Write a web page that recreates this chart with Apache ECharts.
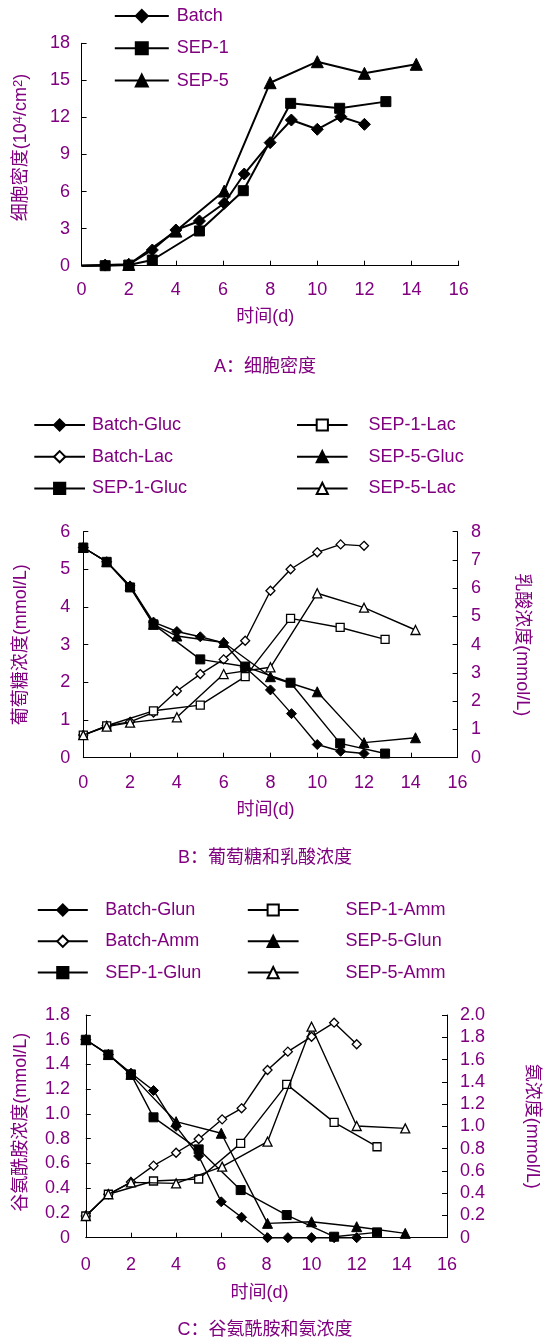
<!DOCTYPE html>
<html><head><meta charset="utf-8">
<script src="https://cdn.jsdelivr.net/npm/echarts@6/dist/echarts.min.js"></script>
<style>html,body{margin:0;padding:0;background:#fff}#c{width:549px;height:1340px}</style>
</head><body><div id="c"></div>
<script>
// ---------- Panel A: cell density (10^4/cm^2) ----------
const aBatch = [[0,0],[1,0.05],[2,0.1],[3,1.27],[4,2.89],[5,3.62],[6.05,5.05],[6.9,7.42],[8,9.96],[8.9,11.79],[10,11.04],[11,12.06],[12,11.44]];
const aSep1  = [[0,0],[1,0.0],[2,0.05],[3,0.46],[5,2.81],[6.86,6.07],[8.87,13.14],[10.95,12.74],[12.91,13.28]];
const aSep5  = [[0,0],[2,0.1],[4,2.8],[6.05,6.04],[8,14.81],[10,16.51],[12,15.57],[14.2,16.3]];

// ---------- Panel B: glucose (left) and lactate (right), mmol/L ----------
const bBatchGluc = [[0,5.58],[1,5.2],[2,4.56],[3,3.6],[4,3.35],[5,3.21],[6,3.05],[6.92,2.4],[8,1.8],[8.9,1.17],[10,0.35],[11,0.17],[12,0.11]];
const bBatchLac  = [[0,0.8],[1,1.13],[2,1.27],[3,1.6],[4,2.36],[5,2.96],[6,3.48],[6.92,4.14],[8,5.91],[8.86,6.67],[10,7.27],[11,7.55],[12,7.5]];
const bSep1Gluc  = [[0,5.58],[1,5.2],[2,4.52],[3,3.54],[5,2.61],[6.92,2.42],[8.86,1.99],[10.98,0.38],[12.9,0.11]];
const bSep1Lac   = [[0,0.8],[1,1.13],[3,1.66],[5,1.86],[6.92,2.87],[8.86,4.93],[10.98,4.61],[12.9,4.19]];
const bSep5Gluc  = [[0,5.58],[1,5.2],[2,4.56],[3,3.54],[4,3.23],[6,3.06],[8,2.15],[10,1.75],[12,0.4],[14.2,0.53]];
const bSep5Lac   = [[0,0.8],[1,1.1],[2,1.24],[4,1.43],[6,2.96],[8,3.2],[10,5.82],[12,5.31],[14.2,4.52]];

// ---------- Panel C: glutamine (left) and ammonia (right), mmol/L ----------
const cBatchGlun = [[0,1.6],[1,1.48],[2,1.33],[3,1.19],[4,0.9],[5,0.66],[6,0.29],[6.9,0.165],[8.05,0],[8.95,0],[10,0],[11,0],[12,0]];
const cBatchAmm  = [[0,0.195],[1,0.39],[2,0.5],[3,0.647],[4,0.763],[5,0.886],[6.04,1.063],[6.9,1.162],[8.05,1.506],[8.95,1.671],[10,1.805],[11,1.931],[12,1.737]];
const cSep1Glun  = [[0,1.6],[1,1.48],[2,1.32],[3,0.973],[5,0.714],[6.86,0.385],[8.9,0.183],[11,0.008],[12.9,0.043]];
const cSep1Amm   = [[0,0.195],[1,0.39],[3,0.509],[5,0.527],[6.86,0.847],[8.9,1.377],[11,1.036],[12.9,0.817]];
const cSep5Glun  = [[0,1.6],[1,1.48],[2,1.32],[4,0.938],[6,0.844],[8.05,0.116],[10,0.129],[12,0.089],[14.15,0.035]];
const cSep5Amm   = [[0,0.195],[1,0.39],[2,0.497],[4,0.488],[6.04,0.638],[8.05,0.862],[10,1.895],[12,1.003],[14.15,0.982]];

// ---------- Texts ----------
const xTitle = '时间(d)';
const captions = ['A：细胞密度', 'B：葡萄糖和乳酸浓度', 'C：谷氨酰胺和氨浓度'];
const legendA = ['Batch', 'SEP-1', 'SEP-5'];
const legendB1 = ['Batch-Gluc', 'Batch-Lac', 'SEP-1-Gluc'];
const legendB2 = ['SEP-1-Lac', 'SEP-5-Gluc', 'SEP-5-Lac'];
const legendC1 = ['Batch-Glun', 'Batch-Amm', 'SEP-1-Glun'];
const legendC2 = ['SEP-1-Amm', 'SEP-5-Glun', 'SEP-5-Amm'];

const FONT = '"Liberation Sans", Arial, "Noto Sans CJK SC", sans-serif';
const PURPLE = '#800080';

const chart = echarts.init(document.getElementById('c'), null, {renderer: 'canvas'});

function txt(extra) {
  return Object.assign({color: PURPLE, fontSize: 18, fontFamily: FONT}, extra || {});
}
function fmt1(v) { return v === 0 ? '0' : v.toFixed(1); }

function xAx(gi, labelMargin, nameGap, shift) {
  return {
    gridIndex: gi, type: 'value', min: 0, max: 16, interval: 2,
    axisLine: {show: true, onZero: false, lineStyle: {color: '#000', width: 1}},
    axisTick: {show: true, inside: true, length: 5, lineStyle: {color: '#000'}},
    splitLine: {show: false},
    axisLabel: txt({margin: labelMargin}),
    name: xTitle, nameLocation: 'middle', nameGap: nameGap,
    nameTextStyle: txt({padding: [0, shift, 0, 0]})
  };
}
function yAx(gi, pos, min, max, interval, name, nameGap, labelMargin, formatter, extraName) {
  return {
    gridIndex: gi, type: 'value', position: pos, min: min, max: max, interval: interval,
    axisLine: {show: true, onZero: false, lineStyle: {color: '#000', width: 1}},
    axisTick: {show: true, inside: true, length: 5, lineStyle: {color: '#000'}},
    splitLine: {show: false},
    axisLabel: txt({margin: labelMargin, formatter: formatter}),
    name: name, nameLocation: 'middle', nameGap: nameGap,
    nameRotate: pos === 'left' ? 90 : -90,
    nameTextStyle: txt(extraName || {})
  };
}

function ser(name, data, xi, yi, symbol, filled, size, lw, z, hideZero) {
  return {
    name: name, type: 'line', xAxisIndex: xi, yAxisIndex: yi, z: z,
    data: data.map(p => (hideZero && p[0] === 0) ? {value: p, symbol: 'none'} : p),
    symbol: symbol, symbolSize: size, showAllSymbol: true,
    lineStyle: {color: '#000', width: lw},
    itemStyle: filled ? {color: '#000', borderColor: '#000', borderWidth: 1}
                      : {color: '#fff', borderColor: '#000', borderWidth: 1.3},
    emphasis: {disabled: true},
    clip: false
  };
}

function leg(names, left, top, itemWidth, itemGap, pad, itemHeight) {
  return {
    data: names, orient: 'vertical', left: left, top: top, padding: 0,
    itemWidth: itemWidth, itemHeight: itemHeight, itemGap: itemGap,
    selectedMode: false,
    textStyle: txt({padding: [0, 0, 0, pad], lineHeight: 18})
  };
}

const option = {
  animation: false,
  backgroundColor: '#fff',
  grid: [
    {left: 81.6, top: 43.3, width: 377.1, height: 222.4},
    {left: 83.3, top: 531.7, width: 374.3, height: 226},
    {left: 85.8, top: 1015, width: 373.9, height: 222.7}
  ],
  xAxis: [xAx(0, 15, 42, 10), xAx(1, 16.6, 43, 10), xAx(2, 18.3, 46, 14)],
  yAxis: [
    yAx(0, 'left', 0, 18, 3, '细胞密度(10{s|4}/cm{s|2})', 52, 11.6, null, {padding: [0, 0, 0, 14]}),
    yAx(1, 'left', 0, 6, 1, '葡萄糖浓度(mmol/L)', 53, 13),
    yAx(1, 'right', 0, 8, 1, '乳酸浓度(mmol/L)', 55, 13.4),
    yAx(2, 'left', 0, 1.8, 0.2, '谷氨酰胺浓度(mmol/L)', 56, 15.8, fmt1, {padding: [0, 0, 0, 8]}),
    yAx(2, 'right', 0, 2.0, 0.2, '氨浓度(mmol/L)', 76, 13, fmt1)
  ],
  legend: [
    leg(legendA, 113.8, 7, 54, 14.3, 3, 15),
    leg(legendB1, 33.3, 416, 50.7, 13.7, 2, 14),
    leg(legendB2, 296, 416, 50.6, 13.7, 16, 14),
    leg(legendC1, 36.8, 901, 50, 13.3, 12.5, 14),
    leg(legendC2, 246.8, 901, 50.8, 13.3, 42, 14)
  ],
  title: captions.map((t, i) => ({
    text: t, left: 265, top: [358, 849, 1321][i], textAlign: 'center', padding: 0,
    textStyle: txt({fontWeight: 'normal'})
  })),
  series: [
    ser('Batch', aBatch, 0, 0, 'diamond', true, 12, 2, 2, true),
    ser('SEP-1', aSep1, 0, 0, 'rect', true, 10, 2, 3, true),
    ser('SEP-5', aSep5, 0, 0, 'triangle', true, 12, 2, 4, true),

    ser('Batch-Gluc', bBatchGluc, 1, 1, 'diamond', true, 10, 1.4, 2),
    ser('Batch-Lac', bBatchLac, 1, 2, 'diamond', false, 9, 1.4, 2),
    ser('SEP-1-Gluc', bSep1Gluc, 1, 1, 'rect', true, 9, 1.4, 4),
    ser('SEP-1-Lac', bSep1Lac, 1, 2, 'rect', false, 8, 1.4, 3),
    ser('SEP-5-Gluc', bSep5Gluc, 1, 1, 'triangle', true, 10, 1.4, 3),
    ser('SEP-5-Lac', bSep5Lac, 1, 2, 'triangle', false, 9, 1.4, 4),

    ser('Batch-Glun', cBatchGlun, 2, 3, 'diamond', true, 10, 1.4, 2),
    ser('Batch-Amm', cBatchAmm, 2, 4, 'diamond', false, 9, 1.4, 2),
    ser('SEP-1-Glun', cSep1Glun, 2, 3, 'rect', true, 9, 1.4, 4),
    ser('SEP-1-Amm', cSep1Amm, 2, 4, 'rect', false, 8, 1.4, 3),
    ser('SEP-5-Glun', cSep5Glun, 2, 3, 'triangle', true, 10, 1.4, 3),
    ser('SEP-5-Amm', cSep5Amm, 2, 4, 'triangle', false, 9, 1.4, 4)
  ]
};
option.yAxis[0].nameTextStyle.rich = {
  s: {fontSize: 13, color: PURPLE, fontFamily: FONT, verticalAlign: 'top', lineHeight: 18}
};
chart.setOption(option);
</script></body></html>
